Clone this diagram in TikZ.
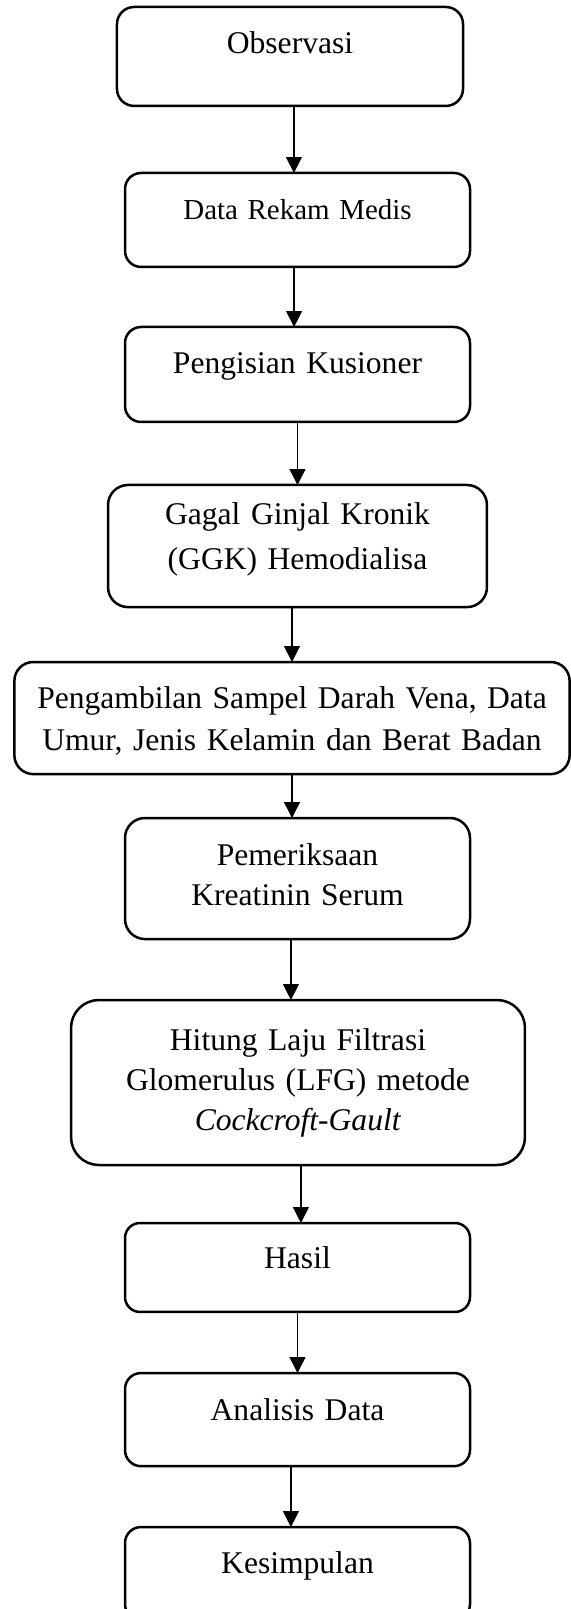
\documentclass[tikz,border=0pt]{standalone}
\usepackage{fontspec}
\setmainfont{Liberation Serif}
\usetikzlibrary{arrows.meta}
\tikzset{
  >={Triangle[width=6pt,length=6pt]},
  stage/.style={rectangle,draw=black,line width=.95pt,inner xsep=3pt,inner ysep=0pt,outer sep=0pt,
    anchor=north,align=center,text width=125.1pt,text height=17.5pt,
    rounded corners=6.1pt,font=\fontsize{12}{15.2}\selectfont},
  flow/.style={->,line width=.5pt,draw=black}
}
\begin{document}
\begin{tikzpicture}[x=.38pt,y=-.38pt]
  \useasboundingbox (0,0) rectangle (571,1609);
  % stages, top to bottom
  \node[stage,text width=125.5pt,text depth=20.1pt,rounded corners=6.5pt] (obs) at (290,7) {Observasi};
  \node[stage,text depth=18.2pt,font=\fontsize{11}{14}\selectfont] (rekam) at (297.5,173) {Data Rekam Medis};
  \node[stage,text depth=18.6pt] (kues) at (297.5,327) {Pengisian Kusioner};
  \node[stage,text width=138pt,text height=15.2pt,text depth=31.2pt,rounded corners=7.6pt,
    font=\fontsize{12}{17.1}\selectfont] (ggk) at (297.5,485) {Gagal Ginjal Kronik\\(GGK) Hemodialisa};
  \node[stage,text width=205pt,text depth=25.1pt,rounded corners=7.2pt,
    font=\fontsize{12}{16}\selectfont] (ambil) at (292,662)
    {Pengambilan Sampel Darah Vena, Data\\Umur, Jenis Kelamin dan Berat Badan};
  \node[stage,text height=17.9pt,text depth=28.1pt,rounded corners=7.6pt] (krea) at (297.5,818)
    {Pemeriksaan\\Kreatinin Serum};
  \node[stage,text width=166.5pt,text height=19pt,text depth=43.7pt,rounded corners=10.6pt] (lfg) at (298,1000)
    {Hitung Laju Filtrasi\\Glomerulus (LFG) metode\\\textit{Cockcroft-Gault}};
  \node[stage,text height=17.1pt,text depth=16.7pt,rounded corners=5.7pt] (hasil) at (297.5,1223) {Hasil};
  \node[stage,text height=17.9pt,text depth=17.5pt] (analisis) at (297.5,1373) {Analisis Data};
  \node[stage,text depth=17.9pt] (simpul) at (297.5,1527) {Kesimpulan};
  % arrows
  \draw[flow] ([xshift=1.5pt]obs.south) -- ([xshift=1.5pt]obs.south |- rekam.north);
  \draw[flow] ([xshift=-1.3pt]rekam.south) -- ([xshift=-1.3pt]rekam.south |- kues.north);
  \draw[flow] (kues.south) -- (kues.south |- ggk.north);
  \draw[flow] ([xshift=-2.1pt]ggk.south) -- ([xshift=-2.1pt]ggk.south |- ambil.north);
  \draw[flow] (ambil.south) -- (ambil.south |- krea.north);
  \draw[flow] ([xshift=-2.5pt]krea.south) -- ([xshift=-2.5pt]krea.south |- lfg.north);
  \draw[flow] ([xshift=1.1pt]lfg.south) -- ([xshift=1.1pt]lfg.south |- hasil.north);
  \draw[flow] (hasil.south) -- (hasil.south |- analisis.north);
  \draw[flow] ([xshift=-2.5pt]analisis.south) -- ([xshift=-2.5pt]analisis.south |- simpul.north);
\end{tikzpicture}
\end{document}
